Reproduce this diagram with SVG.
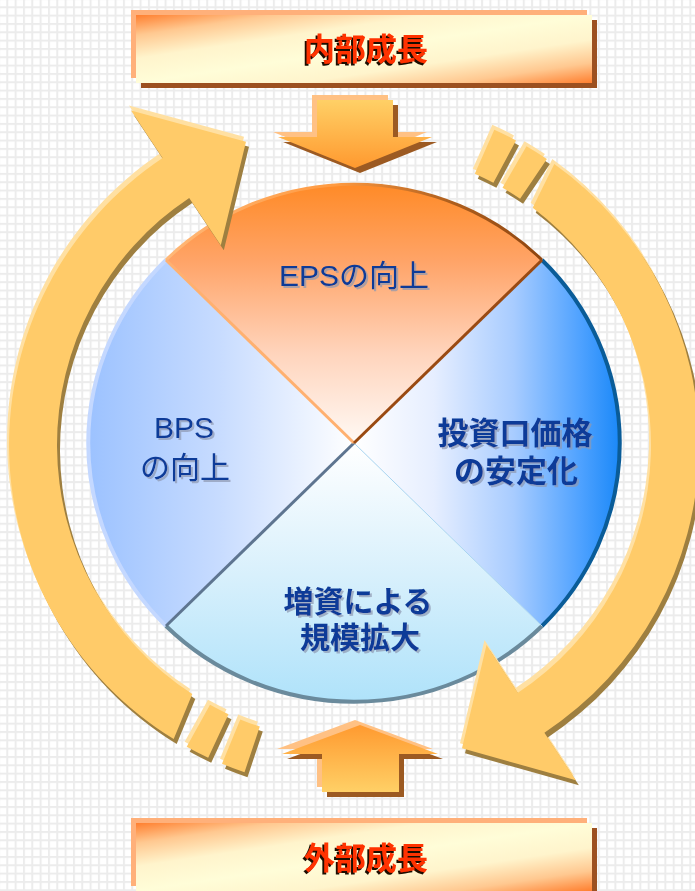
<svg xmlns="http://www.w3.org/2000/svg" width="695" height="891" viewBox="0 0 695 891">
<defs>
<style>
.lbl{font-family:"Liberation Sans","Noto Sans CJK JP",sans-serif;font-size:30px;text-anchor:middle;fill:#0c3a98;filter:url(#tsh)}
.b{font-weight:bold}
.ban{font-family:"Noto Sans CJK JP","Liberation Sans",sans-serif;font-size:31px;font-weight:bold;text-anchor:middle;fill:#ff3300;filter:url(#bsh)}
.arrM{fill:#ffcb69}
.arrH{fill:#ffe0a2}
.arrS{fill:#9e7f40}
.plate{fill:#ffb07a}
.pshadow{fill:#9c5020}
</style>
<filter id="tsh" x="-10%" y="-20%" width="120%" height="140%">
<feDropShadow dx="2" dy="2" stdDeviation="0.3" flood-color="#8e98b0" flood-opacity="0.7"/>
</filter>
<filter id="bsh" x="-10%" y="-20%" width="120%" height="140%">
<feDropShadow dx="-2" dy="2" stdDeviation="0" flood-color="#1e0800" flood-opacity="1"/>
</filter>
<pattern id="grid" x="6.3" y="6.3" width="8.33" height="8.33" patternUnits="userSpaceOnUse">
<rect width="8.33" height="8.33" fill="#ececec"/>
<rect x="2" y="2" width="6.33" height="6.33" fill="#ffffff"/>
</pattern>
<linearGradient id="gBan" x1="0" y1="0" x2="1" y2="1">
<stop offset="0" stop-color="#ff7f2f"/>
<stop offset="0.15" stop-color="#ffc890"/>
<stop offset="0.32" stop-color="#fff4cc"/>
<stop offset="0.5" stop-color="#fffdd8"/>
<stop offset="0.68" stop-color="#fff4cc"/>
<stop offset="0.85" stop-color="#ffc890"/>
<stop offset="1" stop-color="#ff7f2f"/>
</linearGradient>
<linearGradient id="gDown" gradientUnits="userSpaceOnUse" x1="0" y1="100" x2="0" y2="167">
<stop offset="0" stop-color="#ffd066"/>
<stop offset="1" stop-color="#ff9a30"/>
</linearGradient>
<linearGradient id="gUp" gradientUnits="userSpaceOnUse" x1="0" y1="725" x2="0" y2="792">
<stop offset="0" stop-color="#ff9a30"/>
<stop offset="1" stop-color="#ffd066"/>
</linearGradient>
<linearGradient id="gEps" gradientUnits="userSpaceOnUse" x1="0" y1="183" x2="0" y2="445">
<stop offset="0" stop-color="#ff8a26"/>
<stop offset="0.3" stop-color="#ffa468"/>
<stop offset="0.65" stop-color="#ffd4bc"/>
<stop offset="1" stop-color="#fffaf6"/>
</linearGradient>
<linearGradient id="gEpsArc" gradientUnits="userSpaceOnUse" x1="166" y1="0" x2="542" y2="0">
<stop offset="0" stop-color="#ffb878"/>
<stop offset="0.45" stop-color="#ff9a40"/>
<stop offset="0.75" stop-color="#b0601e"/>
<stop offset="1" stop-color="#8e4510"/>
</linearGradient>
<linearGradient id="gPrice" gradientUnits="userSpaceOnUse" x1="354" y1="0" x2="620" y2="0">
<stop offset="0" stop-color="#ffffff"/>
<stop offset="0.3" stop-color="#e6eeff"/>
<stop offset="0.6" stop-color="#a8ccff"/>
<stop offset="0.85" stop-color="#4fa2ff"/>
<stop offset="1" stop-color="#1a88f8"/>
</linearGradient>
<linearGradient id="gCap" gradientUnits="userSpaceOnUse" x1="0" y1="445" x2="0" y2="705">
<stop offset="0" stop-color="#ffffff"/>
<stop offset="0.5" stop-color="#d8f0fc"/>
<stop offset="1" stop-color="#aee2fa"/>
</linearGradient>
<linearGradient id="gBps" gradientUnits="userSpaceOnUse" x1="88" y1="0" x2="354" y2="0">
<stop offset="0" stop-color="#9cc2ff"/>
<stop offset="0.5" stop-color="#c8dcff"/>
<stop offset="1" stop-color="#ffffff"/>
</linearGradient>
<path id="downArrow" d="M317 100 H393 V137 H432 L355 168 L278 137 H317 Z"/>
<path id="upArrow" d="M360 725 L438 754 H399 V792 H322 V754 H282 Z"/>
<path id="cycleL" d="M192.3 694.1 L173.7 739.1 A345 345 0 0 1 162.6 158 L131 110.5 L246 141.7 L220.8 245.3 L189.2 197.9 A297 297 0 0 0 192.3 694.1 Z"/>
<path id="cycleR" d="M532.7 207.8 L554.3 164.1 A345 345 0 0 1 544.4 732.7 L575.9 780.2 L462 748.3 L486.5 645.1 L517.9 692.7 A297 297 0 0 0 532.7 207.8 Z"/>
<path id="dashL1" d="M208.2 757.7 A345 345 0 0 1 186.7 746.7 L210 704.8 A297 297 0 0 0 228.5 714.2 Z"/>
<path id="dashL2" d="M244.5 772.2 A345 345 0 0 1 222 763.7 L240.3 719.4 A297 297 0 0 0 259.8 726.6 Z"/>
<path id="dashR1" d="M526.5 146.2 A345 345 0 0 1 546.9 159 L520.1 198.8 A297 297 0 0 0 502.5 187.8 Z"/>
<path id="dashR2" d="M494.3 129.8 A345 345 0 0 1 516 140.4 L493.4 182.8 A297 297 0 0 0 474.8 173.7 Z"/>
</defs>

<rect width="695" height="891" fill="url(#grid)"/>

<g id="banner-internal">
<rect class="plate" x="131" y="10" width="456" height="68"/>
<rect class="pshadow" x="141" y="20" width="456" height="68"/>
<rect x="136" y="15" width="456" height="68" fill="url(#gBan)"/>
<text class="ban" x="366" y="60">内部成長</text>
</g>

<g id="banner-external">
<rect class="plate" x="131" y="818" width="456" height="68"/>
<rect class="pshadow" x="141" y="828" width="456" height="68"/>
<rect x="136" y="823" width="456" height="68" fill="url(#gBan)"/>
<text class="ban" x="366" y="869">外部成長</text>
</g>

<g id="pie">
<g id="wedge-eps">
<path d="M354 443 L166 260 A266 259 0 0 1 542 260 Z" fill="url(#gEps)"/>
</g>
<g id="wedge-price">
<path d="M354 443 L542 260 A266 259 0 0 1 542 626 Z" fill="url(#gPrice)"/>
</g>
<g id="wedge-capital">
<path d="M354 443 L542 626 A266 259 0 0 1 166 626 Z" fill="url(#gCap)"/>
</g>
<g id="wedge-bps">
<path d="M354 443 L166 626 A266 259 0 0 1 166 260 Z" fill="url(#gBps)"/>
</g>
<path d="M166 626 A266 259 0 0 1 166 260" fill="none" stroke="#c4d8ff" stroke-width="4"/>
<path d="M166 260 A266 259 0 0 1 542 260" fill="none" stroke="url(#gEpsArc)" stroke-width="3"/>
<path d="M542 260 A266 259 0 0 1 542 626" fill="none" stroke="#0a5c98" stroke-width="4"/>
<path d="M542 626 A266 259 0 0 1 166 626" fill="none" stroke="#6a8a9c" stroke-width="4"/>
<line x1="354" y1="443" x2="542" y2="626" stroke="#a8d4f0" stroke-width="1"/>
<line x1="354" y1="443" x2="166" y2="626" stroke="#5e7590" stroke-width="3"/>
<line x1="354" y1="443" x2="166" y2="260" stroke="#ffb070" stroke-width="3"/>
<line x1="354" y1="443" x2="542" y2="260" stroke="#9a4a12" stroke-width="3"/>

<text class="lbl" x="354" y="286">EPSの向上</text>
<text class="lbl" x="184" y="438">BPS</text>
<text class="lbl" x="185" y="478">の向上</text>
<text class="lbl b" x="515" y="444" style="font-size:31px">投資口価格</text>
<text class="lbl b" x="516" y="482" style="font-size:31px">の安定化</text>
<text class="lbl b" x="358" y="612">増資による</text>
<text class="lbl b" x="360" y="648">規模拡大</text>
</g>

<g id="connectors">
<g id="arrow-down">
<use href="#downArrow" fill="#ffc184" transform="translate(-5,-5)"/>
<use href="#downArrow" fill="#9c5a22" transform="translate(5,5)"/>
<use href="#downArrow" fill="url(#gDown)"/>
</g>
<g id="arrow-up">
<use href="#upArrow" fill="#ffc184" transform="translate(-5,-5)"/>
<use href="#upArrow" fill="#9c5a22" transform="translate(5,5)"/>
<use href="#upArrow" fill="url(#gUp)"/>
</g>
<g id="cycle-left">
<use href="#cycleL" class="arrH" transform="translate(-2,-5)"/>
<use href="#cycleL" class="arrS" transform="translate(3,5)"/>
<use href="#cycleL" class="arrM"/>
<use href="#dashL1" class="arrH" transform="translate(-2,-5)"/>
<use href="#dashL1" class="arrS" transform="translate(3,5)"/>
<use href="#dashL1" class="arrM"/>
<use href="#dashL2" class="arrH" transform="translate(-2,-5)"/>
<use href="#dashL2" class="arrS" transform="translate(3,5)"/>
<use href="#dashL2" class="arrM"/>
</g>
<g id="cycle-right">
<use href="#cycleR" class="arrH" transform="translate(-2,-5)"/>
<use href="#cycleR" class="arrS" transform="translate(3,5)"/>
<use href="#cycleR" class="arrM"/>
<use href="#dashR1" class="arrH" transform="translate(-2,-5)"/>
<use href="#dashR1" class="arrS" transform="translate(3,5)"/>
<use href="#dashR1" class="arrM"/>
<use href="#dashR2" class="arrH" transform="translate(-2,-5)"/>
<use href="#dashR2" class="arrS" transform="translate(3,5)"/>
<use href="#dashR2" class="arrM"/>
</g>
</g>
</svg>
